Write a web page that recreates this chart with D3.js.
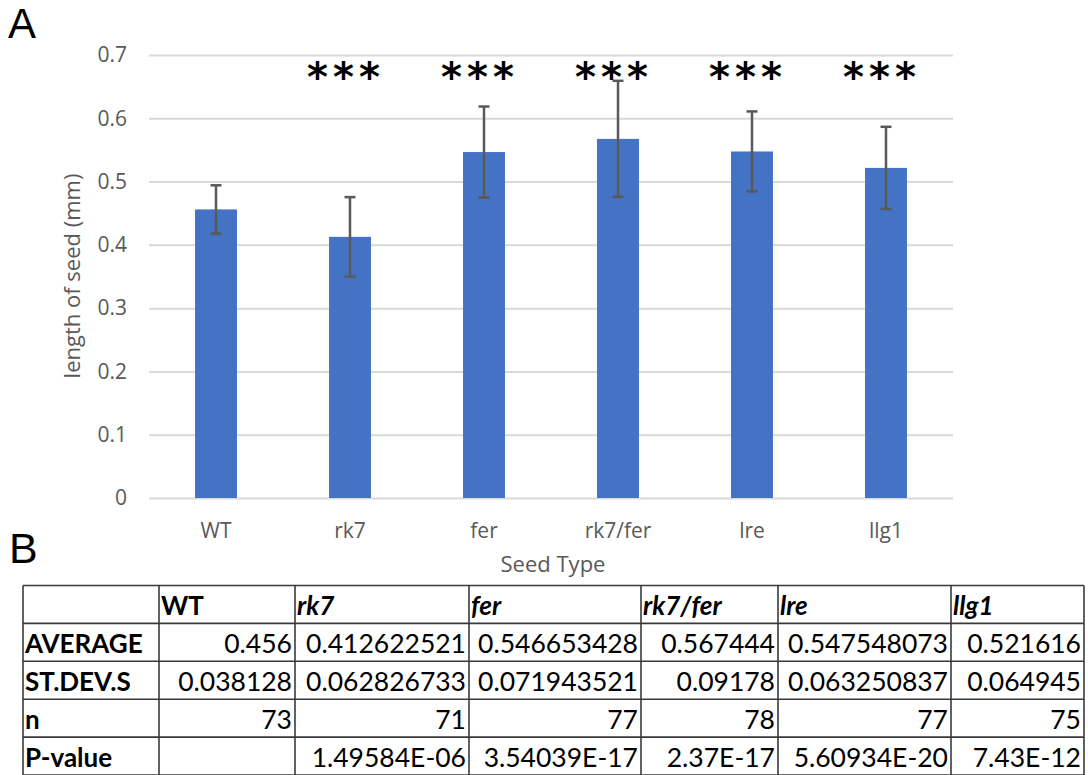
<!DOCTYPE html>
<html>
<head>
<meta charset="utf-8">
<script src="https://cdn.jsdelivr.net/npm/d3@7"></script>
<style>
  html, body { margin: 0; padding: 0; background: #fff; }
  svg { display: block; }
</style>
</head>
<body>
<svg id="chart" width="1088" height="775"></svg>
<script>
// ---- data ----
const categories = ["WT", "rk7", "fer", "rk7/fer", "lre", "llg1"];
const averages = [0.456, 0.412622521, 0.546653428, 0.567444, 0.547548073, 0.521616];
const stdevs = [0.038128, 0.062826733, 0.071943521, 0.09178, 0.063250837, 0.064945];
const nValues = [73, 71, 77, 78, 77, 75];
const pValues = ["", "1.49584E-06", "3.54039E-17", "2.37E-17", "5.60934E-20", "7.43E-12"];
const significance = ["", "***", "***", "***", "***", "***"];
const yTicks = [0, 0.1, 0.2, 0.3, 0.4, 0.5, 0.6, 0.7];
const rowLabels = ["AVERAGE", "ST.DEV.S", "n", "P-value"];
const italicHeaders = [false, true, true, true, true, true];

// ---- layout ----
const svg = d3.select("#chart");
const chartFont = "'Open Sans', 'Noto Sans', sans-serif";
const tableFont = "Lato, 'Liberation Sans', sans-serif";
const grey = "#595959";

const x = d3.scaleBand().domain(categories).range([149, 953])
  .paddingInner(0.687).paddingOuter(0.3435);
const y = d3.scaleLinear().domain([0, 0.7]).range([498, 55]);

// panel letters
svg.append("text").attr("x", 8).attr("y", 38).text("A")
  .attr("font-family", "'Liberation Sans', Arial, sans-serif").attr("font-size", 42).attr("fill", "#000");
svg.append("text").attr("x", 9).attr("y", 563).text("B")
  .attr("font-family", "'Liberation Sans', Arial, sans-serif").attr("font-size", 43).attr("fill", "#000");

// gridlines + y labels
const yAxis = d3.axisLeft(y).tickValues(yTicks).tickSize(-(953 - 149)).tickPadding(22)
  .tickFormat(d => d3.format("~g")(d));
const gy = svg.append("g").attr("transform", "translate(149,0)").call(yAxis);
gy.select(".domain").remove();
gy.selectAll(".tick line").attr("stroke", "#d9d9d9").attr("stroke-width", 2);
gy.selectAll(".tick text").attr("fill", grey).attr("font-family", chartFont).attr("font-size", 21);

// bars
svg.append("g").selectAll("rect").data(categories).join("rect")
  .attr("x", d => x(d)).attr("width", x.bandwidth())
  .attr("y", (d, i) => y(averages[i])).attr("height", (d, i) => y(0) - y(averages[i]))
  .attr("fill", "#4472c4");

// error bars
const eb = svg.append("g").attr("stroke", grey).attr("stroke-width", 2.5).attr("fill", "none");
categories.forEach((c, i) => {
  const cx = x(c) + x.bandwidth() / 2;
  const yt = y(averages[i] + stdevs[i]), yb = y(averages[i] - stdevs[i]);
  eb.append("line").attr("x1", cx).attr("x2", cx).attr("y1", yt).attr("y2", yb);
  eb.append("line").attr("x1", cx - 5.5).attr("x2", cx + 5.5).attr("y1", yt).attr("y2", yt);
  eb.append("line").attr("x1", cx - 5.5).attr("x2", cx + 5.5).attr("y1", yb).attr("y2", yb);
});

// significance stars
svg.append("g").selectAll("text").data(categories).join("text")
  .attr("x", d => x(d) + x.bandwidth() / 2 - 4).attr("y", 91)
  .attr("text-anchor", "middle")
  .attr("font-family", "'DejaVu Sans', sans-serif").attr("font-size", 40).attr("font-weight", "bold")
  .attr("letter-spacing", 5)
  .attr("fill", "#000")
  .text((d, i) => significance[i]);

// x axis labels
const xAxis = d3.axisBottom(x).tickSize(0).tickPadding(0);
const gx = svg.append("g").attr("transform", "translate(0,538)").call(xAxis);
gx.select(".domain").remove();
gx.selectAll(".tick text").attr("fill", grey).attr("font-family", chartFont).attr("font-size", 21)
  .attr("dy", 0).attr("y", 0);

// axis titles
svg.append("text").attr("x", 553).attr("y", 572).attr("text-anchor", "middle")
  .attr("fill", grey).attr("font-family", chartFont).attr("font-size", 22).text("Seed Type");
svg.append("text").attr("transform", "translate(80,276) rotate(-90)").attr("text-anchor", "middle")
  .attr("fill", grey).attr("font-family", chartFont).attr("font-size", 22).text("length of seed (mm)");

// ---- table ----
const colEdges = [23, 159, 295, 469, 641, 778, 951, 1084];
const tableTop = 585.5, rowH = 37.9;
const nRows = 5;
const tbl = svg.append("g");

const cellRows = [
  averages.map(v => String(v)),
  stdevs.map(v => String(v)),
  nValues.map(v => String(v)),
  pValues
];

// header
categories.forEach((c, j) => {
  tbl.append("text").attr("x", colEdges[j + 1] + 2).attr("y", tableTop + rowH - 8)
    .attr("font-family", tableFont).attr("font-size", 26).attr("font-weight", "bold")
    .attr("font-style", italicHeaders[j] ? "italic" : "normal").attr("fill", "#000").text(c);
});
rowLabels.forEach((lab, r) => {
  const yb = tableTop + rowH * (r + 2) - 8;
  tbl.append("text").attr("x", colEdges[0] + 2).attr("y", yb)
    .attr("font-family", tableFont).attr("font-size", 26).attr("font-weight", "bold")
    .attr("fill", "#000").text(lab);
  cellRows[r].forEach((v, j) => {
    tbl.append("text").attr("x", colEdges[j + 2] - 3).attr("y", yb).attr("text-anchor", "end")
      .attr("font-family", tableFont).attr("font-size", 26.5).attr("fill", "#000").text(v);
  });
});

// table lines
const lines = tbl.append("g").attr("stroke", "#3a3a3a").attr("stroke-width", 1.6);
for (let r = 0; r <= nRows; r++) {
  const yy = tableTop + rowH * r;
  lines.append("line").attr("x1", colEdges[0]).attr("x2", colEdges[colEdges.length - 1]).attr("y1", yy).attr("y2", yy);
}
colEdges.forEach(xx => {
  lines.append("line").attr("x1", xx).attr("x2", xx).attr("y1", tableTop).attr("y2", tableTop + rowH * nRows);
});
</script>
</body>
</html>
